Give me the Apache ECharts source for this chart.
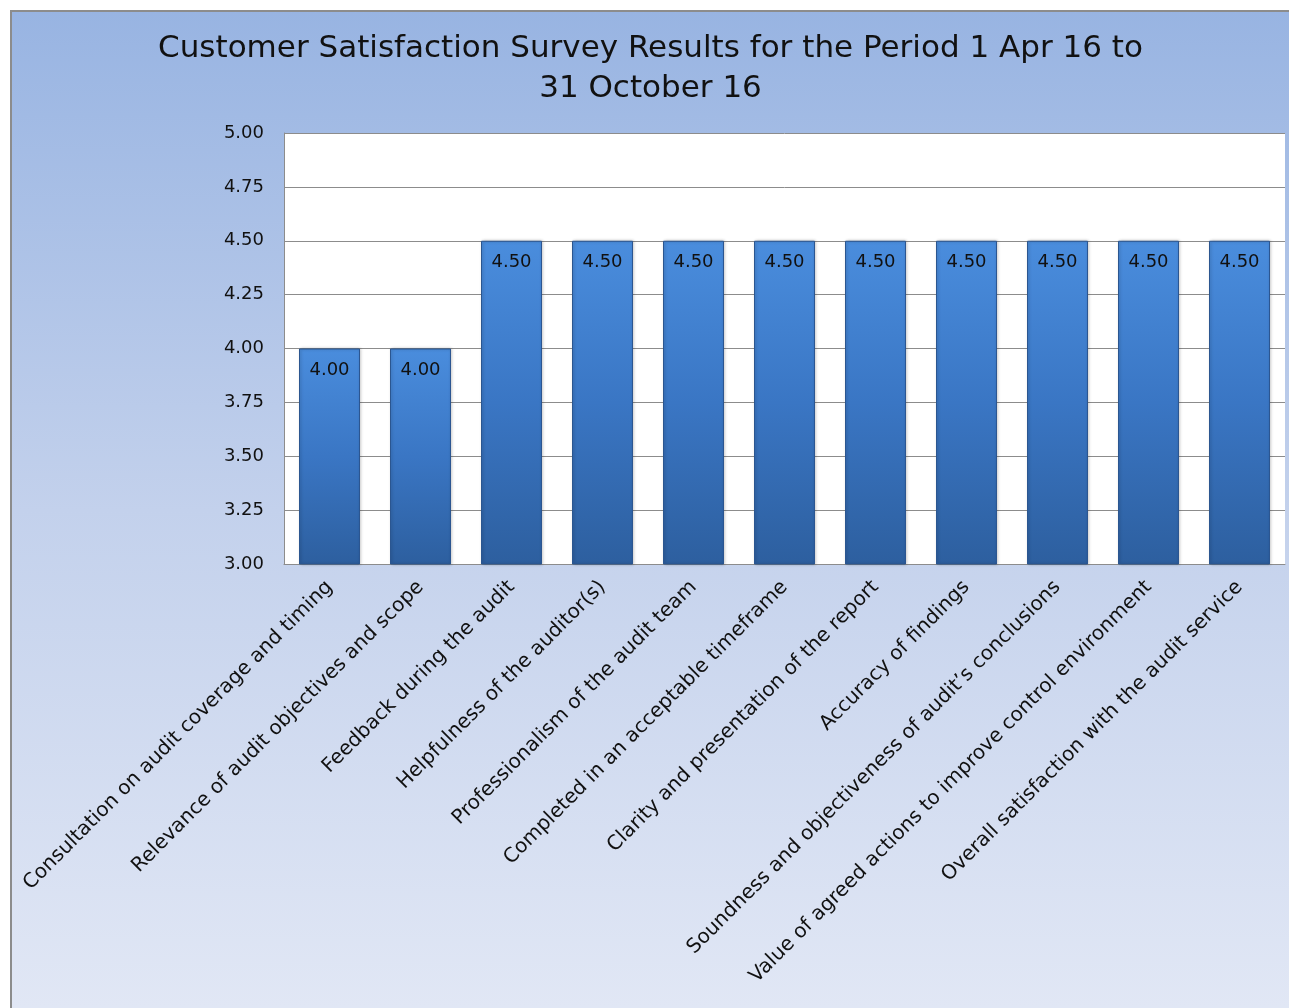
<!DOCTYPE html>
<html>
<head>
<meta charset="utf-8">
<script src="https://cdn.jsdelivr.net/npm/echarts@6/dist/echarts.min.js"></script>
<style>
  html, body { margin: 0; padding: 0; background: #fff; overflow: hidden; }
  #frame {
    position: absolute; left: 10px; top: 10px;
    width: 1279px; height: 998px;
    border-left: 2px solid #8c8c8c; border-top: 2px solid #8c8c8c;
  }
  #chart { width: 1277px; height: 996px; }
</style>
</head>
<body>
<div id="frame"><div id="chart"></div></div>
<script>
// Customer satisfaction survey — single bar series, y axis 3.00 to 5.00

const categories = [
    'Consultation on audit coverage and timing',
    'Relevance of audit objectives and scope',
    'Feedback during the audit',
    'Helpfulness of the auditor(s)',
    'Professionalism of the audit team',
    'Completed in an acceptable timeframe',
    'Clarity and presentation of the report',
    'Accuracy of findings',
    'Soundness and objectiveness of audit\u2019s conclusions',
    'Value of agreed actions to improve control environment',
    'Overall satisfaction with the audit service'
];
const scores = [4.00, 4.00, 4.50, 4.50, 4.50, 4.50, 4.50, 4.50, 4.50, 4.50, 4.50];
const yTicks = { min: 3, max: 5, step: 0.25 };
const titleText = 'Customer Satisfaction Survey Results for the Period 1 Apr 16 to\n31 October 16';

const font = '"DejaVu Sans", sans-serif';
const chart = echarts.init(document.getElementById('chart'));

const option = {
    backgroundColor: new echarts.graphic.LinearGradient(0, 0, 0, 1, [
        { offset: 0, color: '#98b4e2' },
        { offset: 0.5, color: '#c3d1ec' },
        { offset: 1, color: '#e1e7f5' }
    ]),
    animation: false,
    title: {
        text: titleText,
        left: 'center',
        top: 12,
        textStyle: {
            fontFamily: font, fontSize: 31, fontWeight: 'normal',
            color: '#111', lineHeight: 40
        }
    },
    grid: {
        left: 272, right: 4, top: 121, bottom: 444,
        show: true, backgroundColor: '#fff', borderWidth: 0
    },
    xAxis: {
        type: 'category',
        data: categories,
        axisLine: { show: true, lineStyle: { color: '#8c8c8c', width: 1 } },
        axisTick: { show: false },
        axisLabel: {
            interval: 0, rotate: 45, margin: 20,
            fontFamily: font, fontSize: 20, color: '#111'
        }
    },
    yAxis: {
        type: 'value',
        min: yTicks.min, max: yTicks.max, interval: yTicks.step,
        axisLine: { show: true, lineStyle: { color: '#8c8c8c', width: 1 } },
        axisTick: { show: false },
        splitLine: { lineStyle: { color: '#8c8c8c', width: 1 } },
        axisLabel: {
            margin: 20, fontFamily: font, fontSize: 18, color: '#111',
            formatter: v => v.toFixed(2)
        }
    },
    series: [{
        type: 'bar',
        data: scores,
        barCategoryGap: '33%',
        itemStyle: {
            color: new echarts.graphic.LinearGradient(0, 0, 0, 1, [
                { offset: 0, color: '#4a8ddd' },
                { offset: 0.5, color: '#3a76c4' },
                { offset: 1, color: '#2d5f9f' }
            ]),
            borderColor: '#2b5690',
            borderWidth: 1,
            shadowColor: 'rgba(0,0,0,0.25)',
            shadowBlur: 3,
            shadowOffsetX: 1
        },
        label: {
            show: true,
            position: 'insideTop',
            distance: 13,
            fontFamily: font, fontSize: 18, color: '#111',
            formatter: p => p.value.toFixed(2)
        }
    }]
};

chart.setOption(option);
window.addEventListener('resize', () => chart.resize());
</script>
</body>
</html>
